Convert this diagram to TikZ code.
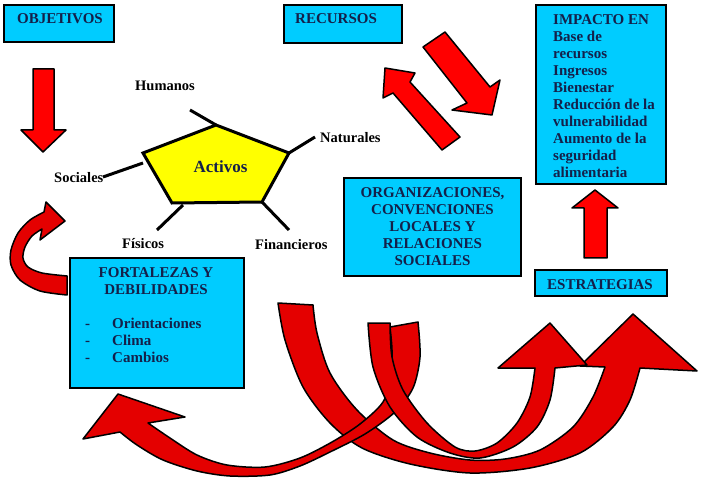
\documentclass[tikz,border=0pt]{standalone}
\usepackage{fontspec}
\setmainfont{Liberation Serif}
\definecolor{boxcyan}{HTML}{00CCFF}
\definecolor{boxtext}{HTML}{14204A}
\definecolor{arrred}{HTML}{FF0000}
\definecolor{bandred}{HTML}{E40000}
\definecolor{pentyellow}{HTML}{FFFF00}
\tikzset{
  infobox/.style={draw=black, line width=2pt, fill=boxcyan, inner sep=0pt},
  boxtxt/.style={text=boxtext, font=\bfseries\fontsize{15}{17}\selectfont, inner sep=0pt},
  lbl/.style={text=black, font=\bfseries\fontsize{14.5}{17}\selectfont, inner sep=0pt, anchor=base west},
  redarrow/.style={fill=arrred, draw=black, line width=1.5pt, line join=round},
  band/.style={fill=bandred, draw=black, line width=1.5pt, line join=round},
  spoke/.style={draw=black, line width=3pt},
  pent/.style={fill=pentyellow, draw=black, line width=3pt, line join=miter},
}
\begin{document}
\begin{tikzpicture}[x=1pt,y=-1pt]
\useasboundingbox (0,0) rectangle (701,478);
\fill[white] (0,0) rectangle (701,478);

% ---------- boxes ----------
\node[infobox, minimum width=110pt, minimum height=37pt] (objbox) at (59,23.5) {};
\node[boxtxt, anchor=base west] (objtxt) at (17,24) {OBJETIVOS};

\node[infobox, minimum width=118pt, minimum height=38pt] (recbox) at (343,24) {};
\node[boxtxt, anchor=base west] (rectxt) at (295,24) {RECURSOS};

\node[infobox, minimum width=130pt, minimum height=179pt] (impbox) at (601,94.5) {};
\node[boxtxt, anchor=north west, align=left] (imptxt) at (553,14.5)
  {IMPACTO EN\\Base de\\recursos\\Ingresos\\Bienestar\\Reducción de la\\vulnerabilidad\\Aumento de la\\seguridad\\alimentaria};

\node[infobox, minimum width=177pt, minimum height=98pt] (orgbox) at (432.5,227) {};
\node[boxtxt, anchor=north, align=center] (orgtxt) at (432.5,187.5)
  {ORGANIZACIONES,\\CONVENCIONES\\LOCALES Y\\RELACIONES\\SOCIALES};

\node[infobox, minimum width=132pt, minimum height=26pt] (estbox) at (601,283) {};
\node[boxtxt, anchor=base] (esttxt) at (600,290) {ESTRATEGIAS};

\node[infobox, minimum width=174pt, minimum height=130pt] (forbox) at (157,323) {};
\node[boxtxt, anchor=north, align=center] (fortxt) at (156,267.5) {FORTALEZAS Y\\DEBILIDADES};
\node[boxtxt, anchor=base west] (d1) at (85,328) {-};
\node[boxtxt, anchor=base west] (d2) at (85,345) {-};
\node[boxtxt, anchor=base west] (d3) at (85,362) {-};
\node[boxtxt, anchor=base west] (i1) at (112,328) {Orientaciones};
\node[boxtxt, anchor=base west] (i2) at (112,345) {Clima};
\node[boxtxt, anchor=base west] (i3) at (112,362) {Cambios};

% ---------- pentagon ----------
\coordinate (pT) at (216,125);
\coordinate (pR) at (289,153);
\coordinate (pBR) at (262,202);
\coordinate (pBL) at (172,203);
\coordinate (pL) at (143,153);
\draw[spoke] (190,110) -- (pT);
\draw[spoke] (pR) -- (315,137);
\draw[spoke] (143,163) -- (103,177);
\draw[spoke] (183,205) -- (157,230);
\draw[spoke] (pBR) -- (289,230);
\draw[pent] (pT) -- (pR) -- (pBR) -- (pBL) -- (pL) -- cycle;
\node[text=boxtext, font=\bfseries\fontsize{17}{20}\selectfont, inner sep=0pt, anchor=base] (activos) at (220.5,173) {Activos};

\node[lbl] (humanos) at (135,91) {Humanos};
\node[lbl] (naturales) at (320,143) {Naturales};
\node[lbl] (sociales) at (54,183) {Sociales};
\node[lbl] (fisicos) at (122,249) {Físicos};
\node[lbl] (financieros) at (255,250) {Financieros};

% ---------- straight arrows ----------
\filldraw[redarrow] (33,69) -- (54,69) -- (54,130) -- (66,130) -- (43,152) -- (21,130) -- (33,130) -- cycle;
\filldraw[redarrow] (584,258) -- (607,258) -- (607,208) -- (618,208) -- (595,190) -- (572,208) -- (584,208) -- cycle;
\filldraw[redarrow] (385,68) -- (415,73) -- (410,82) -- (460,137) -- (442,150) -- (393,93) -- (383,98) -- cycle;
\filldraw[redarrow] (445,32) -- (490,87) -- (500,80) -- (492,115) -- (452,110) -- (467,103) -- (423,47) -- cycle;

% ---------- C arrow near Sociales ----------
\filldraw[band] plot[smooth] coordinates {(67,295) (40,291) (20,280) (11,265) (11,250) (18,233) (30,220) (44,212)}
  -- (46,202) -- (65,221) -- (40,240) -- (42,229)
  -- plot[smooth] coordinates {(42,229) (32,236) (25,247) (23,258) (28,267) (42,273) (67,276)} -- cycle;

% ---------- bottom bands ----------
% band A (outer, big head)
\filldraw[band] plot[smooth] coordinates {(278,303) (285,340) (303,387) (330,423) (362,448) (410,464) (470,473) (530,468) (580,453) (613,427) (630,400) (640,368)}
  -- (697,371) -- (633,314) -- (580,366) -- (605,367)
  -- plot[smooth] coordinates {(605,367) (593,397) (573,427) (540,450) (505,459) (470,460) (430,453) (393,440) (357,410) (330,373) (317,333) (313,305)} -- cycle;
% band C (to FORTALEZAS)
\filldraw[band] plot[smooth] coordinates {(418,322) (420,357) (413,388) (395,412) (365,434) (330,452) (300,466) (270,475) (230,476) (197,471) (163,460) (137,445) (120,432)}
  -- (83,439) -- (118,394) -- (185,417) -- (148,423)
  -- plot[smooth] coordinates {(148,423) (170,438) (197,455) (227,465) (265,467) (300,458) (332,442) (360,424) (383,402) (391,375) (392,350) (390,327)} -- cycle;
% band B (inner, small head)
\filldraw[band] plot[smooth] coordinates {(368,323) (373,367) (390,407) (417,437) (450,453) (480,458) (513,447) (537,427) (550,400) (555,368)}
  -- (587,365) -- (550,323) -- (498,368) -- (535,368)
  -- plot[smooth] coordinates {(535,368) (530,397) (517,423) (497,443) (475,451) (455,447) (427,423) (403,390) (392,357) (390,323)} -- cycle;
\end{tikzpicture}
\end{document}
